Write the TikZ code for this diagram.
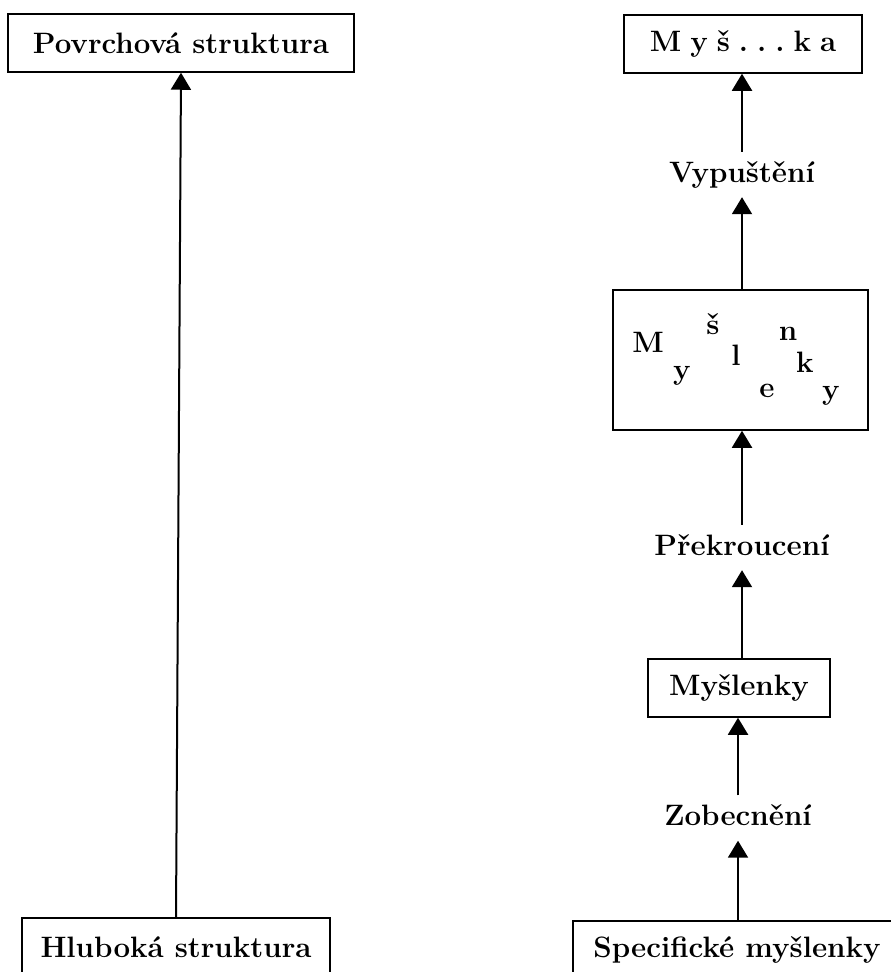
\documentclass[tikz,border=0pt]{standalone}
\usepackage{fontspec}
\usetikzlibrary{arrows.meta,positioning}
\newcommand{\bigbf}{\fontsize{29.5}{34}\selectfont\bfseries}
\tikzset{
  box/.style={draw, line width=1.5pt, minimum height=58pt, inner xsep=0pt, font=\bigbf},
  stage/.style={inner xsep=4pt, inner ysep=9pt, text height=21pt, text depth=6pt, font=\bigbf},
  letter/.style={anchor=base, inner sep=0pt, font=\bigbf},
  flow/.style={-{Triangle[length=17pt,width=20pt]}, line width=2pt},
}
\begin{document}
\begin{tikzpicture}[x=1pt,y=-1pt]
  \useasboundingbox (0,0) rectangle (891,972);
  % left column
  \node[box, minimum width=346pt] (surf) at (181,43) {Povrchová struktura};
  \node[box, minimum width=308pt] (deep) at (176,947) {Hluboká struktura};
  \draw[flow] (deep.north) -- (surf.south);
  % right column
  \node[box, minimum width=238pt] (mouse) at (743,44) {M\hspace{9pt}y\hspace{9pt}š\hspace{9pt}.\hspace{9pt}.\hspace{9pt}.\hspace{9pt}k\hspace{9pt}a};
  \node[stage] (omit) at (742,174.5) {Vypuštění};
  \node[box, minimum width=255pt, minimum height=140pt] (jumble) at (740.5,360) {};
  \foreach \ch/\lx/\ly [count=\k] in {M/648/352, š/713/334, n/788/340, l/736/365, k/805/372, y/682/379, e/767/397, y/831/399}
    \node[letter] (jl\k) at (\lx,\ly) {\ch};
  \node[stage] (distort) at (742,547.5) {Překroucení};
  \node[box, minimum width=182pt] (thoughts) at (739,688) {Myšlenky};
  \node[stage] (general) at (738,818) {Zobecnění};
  \node[box, minimum width=328pt] (specific) at (737,950) {Specifické myšlenky};
  \draw[flow] (specific.north -| general) -- (general.south);
  \draw[flow] (general.north) -- (general.north |- thoughts.south);
  \draw[flow] (thoughts.north -| distort) -- (distort.south);
  \draw[flow] (distort.north) -- (distort.north |- jumble.south);
  \draw[flow] (jumble.north -| omit) -- (omit.south);
  \draw[flow] (omit.north) -- (omit.north |- mouse.south);
\end{tikzpicture}
\end{document}
